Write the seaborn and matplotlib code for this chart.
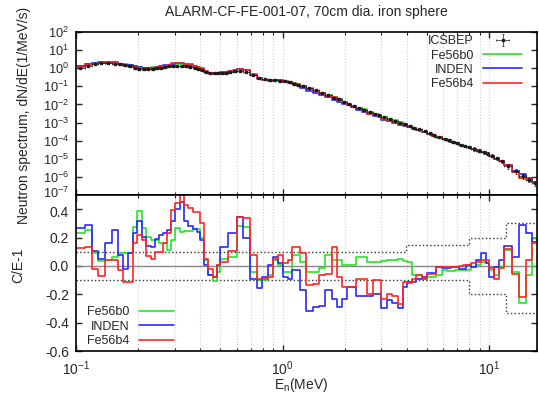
import numpy as np
import pandas as pd
import matplotlib

matplotlib.use("Agg")
import matplotlib.pyplot as plt
import matplotlib.ticker as ticker
import matplotlib.transforms as mtransforms
from matplotlib.lines import Line2D
import seaborn as sns

sns.set_theme(style="ticks")
plt.rcParams.update(
    {
        "font.family": ["Liberation Sans", "DejaVu Sans"],
        "font.size": 10,
        "mathtext.default": "regular",
        "axes.linewidth": 1.2,
    }
)

# bin edges, log10(E/MeV)
edge_log10 = [
    -1.000, -0.957, -0.923, -0.894, -0.860, -0.826, -0.797, -0.773, -0.749, -0.725,
    -0.705, -0.681, -0.662, -0.638, -0.618, -0.599, -0.580, -0.560, -0.541, -0.522,
    -0.498, -0.478, -0.459, -0.435, -0.415, -0.401, -0.382, -0.362, -0.338, -0.319,
    -0.304, -0.285, -0.266, -0.242, -0.222, -0.193, -0.159, -0.126, -0.101, -0.072,
    -0.048, -0.024, 0.000, 0.024, 0.043, 0.063, 0.082, 0.111, 0.145, 0.174,
    0.203, 0.237, 0.261, 0.285, 0.309, 0.333, 0.357, 0.382, 0.406, 0.435,
    0.459, 0.478, 0.507, 0.531, 0.556, 0.580, 0.604, 0.628, 0.647, 0.676,
    0.700, 0.725, 0.744, 0.773, 0.797, 0.816, 0.836, 0.855, 0.874, 0.889,
    0.913, 0.937, 0.961, 0.986, 1.000, 1.024, 1.048, 1.072, 1.111, 1.145,
    1.179, 1.208, 1.230,
]

# ICSBEP measured spectrum, log10(1/MeV/s)
icsbep_log10 = [
    0.02, 0.12, 0.24, 0.30, 0.29, 0.26, 0.22, 0.20, 0.12, 0.03,
    -0.05, -0.07, -0.06, -0.03, 0.0, 0.04, 0.07, 0.10, 0.12, 0.13,
    0.12, 0.10, 0.06, 0.0, -0.06, -0.12, -0.2, -0.24, -0.26, -0.27,
    -0.27, -0.26, -0.22, -0.18, -0.15, -0.2, -0.35, -0.52, -0.62, -0.65,
    -0.66, -0.68, -0.72, -0.78, -0.85, -0.92, -1.0, -1.1, -1.22, -1.35,
    -1.5, -1.62, -1.72, -1.85, -1.97, -2.08, -2.2, -2.3, -2.42, -2.52,
    -2.6, -2.7, -2.8, -2.9, -3.0, -3.1, -3.2, -3.28, -3.37, -3.46,
    -3.6, -3.7, -3.8, -3.9, -3.98, -4.06, -4.14, -4.22, -4.28, -4.36,
    -4.45, -4.55, -4.64, -4.72, -4.82, -4.98, -5.12, -5.4, -5.7, -5.95,
    -6.15, -6.35,
]

# C/E-1 per bin
ce_fe56b0 = [
    0.235, 0.25, 0.09, 0.035, 0.04, 0.06, 0.09, 0.09, 0.09, 0.275,
    0.385, 0.265, 0.205, 0.18, 0.18, 0.16, 0.16, 0.11, 0.18, 0.27,
    0.24, 0.245, 0.245, 0.26, 0.26, 0.195, 0.04, -0.065, -0.105, -0.04,
    0.05, 0.05, 0.06, 0.06, 0.28, 0.275, -0.04, -0.1, -0.1, -0.065,
    0.04, 0.005, -0.04, -0.04, 0.075, 0.075, 0.03, -0.04, -0.04, -0.015,
    0.075, 0.04, 0.045, 0.005, 0.005, 0.005, 0.065, 0.065, 0.03, 0.03,
    0.03, 0.035, 0.045, 0.045, 0.05, 0.035, 0.03, -0.065, -0.065, -0.09,
    -0.075, -0.075, -0.065, -0.03, -0.035, -0.035, -0.03, -0.03, -0.03, -0.03,
    -0.005, 0.005, 0.03, 0.02, -0.03, -0.065, -0.005, 0.11, -0.045, -0.26,
    -0.065, 0.195,
]
ce_inden = [
    0.265, 0.29, 0.105, 0.05, 0.165, 0.25, 0.08, -0.02, 0.09, 0.23,
    0.32, 0.205, 0.14, 0.13, 0.19, 0.22, 0.23, 0.25, 0.32, 0.40,
    0.45, 0.32, 0.28, 0.26, 0.24, 0.18, 0.005, -0.065, -0.077, 0.005,
    0.135, 0.135, 0.23, 0.23, 0.345, 0.195, -0.09, -0.155, -0.077, 0.005,
    0.065, 0.02, -0.08, -0.09, -0.03, -0.03, -0.17, -0.32, -0.29, -0.28,
    -0.17, -0.23, -0.29, -0.23, -0.145, -0.145, -0.215, -0.215, -0.21, -0.2,
    -0.2, -0.3, -0.24, -0.26, -0.3, -0.15, -0.11, -0.11, -0.09, -0.08,
    -0.05, -0.05, -0.01, -0.015, -0.015, -0.01, -0.01, -0.02, -0.02, 0.005,
    -0.005, 0.04, 0.09, 0.02, -0.08, -0.01, 0.04, 0.14, 0.06, 0.29,
    0.23, 0.17,
]
ce_fe56b4 = [
    0.125, 0.135, -0.02, -0.07, 0.04, 0.04, -0.03, -0.11, -0.11, 0.16,
    0.215, 0.18, 0.07, 0.05, 0.1, 0.1, 0.16, 0.23, 0.395, 0.445,
    0.52, 0.43, 0.41, 0.38, 0.38, 0.3, 0.05, -0.02, -0.08, 0.005,
    0.03, 0.03, 0.105, 0.105, 0.345, 0.335, 0.075, -0.09, -0.09, -0.08,
    0.05, 0.075, 0.02, 0.04, 0.13, 0.13, 0.09, -0.135, -0.125, -0.065,
    -0.06, 0.13, -0.075, -0.145, -0.145, -0.145, -0.09, -0.09, -0.2, -0.1,
    -0.1, -0.235, -0.195, -0.21, -0.265, -0.11, -0.12, -0.09, -0.065, -0.09,
    -0.06, -0.06, -0.005, -0.005, -0.01, -0.01, -0.01, 0.0, 0.005, 0.01,
    0.02, 0.03, 0.045, 0.04, -0.015, -0.09, -0.015, 0.12, -0.06, -0.22,
    0.04, 0.16,
]

# experimental uncertainty band (dotted)
band_edge_log10 = [-1.0, 0.599, 0.903, 1.082, 1.230]
band_hi = [0.1, 0.15, 0.2, 0.3]
band_lo = [-0.1, -0.1, -0.2, -0.33]

models = ["Fe56b0", "INDEN", "Fe56b4"]
ce_sets = [ce_fe56b0, ce_inden, ce_fe56b4]
colors = {"Fe56b0": "#22e622", "INDEN": "#2828ff", "Fe56b4": "#ff2424"}

title = "ALARM-CF-FE-001-07, 70cm dia. iron sphere"


def step_frame(edges, vals, name):
    return pd.DataFrame(
        {"E": edges, "val": list(vals) + [vals[-1]], "model": name}
    )


def main():
    edges = 10 ** np.array(edge_log10)
    centers = 10 ** ((np.array(edge_log10[:-1]) + np.array(edge_log10[1:])) / 2)
    exp = 10 ** np.array(icsbep_log10)

    # relative error of the measurement from the band
    idx = np.searchsorted(band_edge_log10, np.log10(centers), side="right") - 1
    rel_err = np.array(band_hi)[idx]

    top = pd.concat(
        [step_frame(edges, exp * (1 + np.array(c)), m) for m, c in zip(models, ce_sets)]
    )
    bot = pd.concat([step_frame(edges, c, m) for m, c in zip(models, ce_sets)])

    fig = plt.figure(figsize=(5.39, 3.98), dpi=100)
    ax1 = fig.add_axes([0.141, 0.51, 0.855, 0.4096])
    ax2 = fig.add_axes([0.141, 0.118, 0.855, 0.392])

    # --- spectrum panel
    sns.lineplot(
        data=top, x="E", y="val", hue="model", hue_order=models, palette=colors,
        drawstyle="steps-post", estimator=None, lw=1.2, legend=False, ax=ax1,
    )
    eb = ax1.errorbar(
        centers, exp,
        xerr=[centers - edges[:-1], edges[1:] - centers],
        yerr=exp * rel_err,
        fmt="s", ms=1.6, color="k", lw=0.5, capsize=1.0, capthick=0.5,
        zorder=5,
    )
    ax1.set_xscale("log")
    ax1.set_yscale("log")
    ax1.set_xlim(0.1, 10 ** 1.23)
    ax1.set_ylim(1e-7, 1e2)
    ax1.yaxis.set_major_locator(ticker.LogLocator(base=10, numticks=20))
    ax1.yaxis.set_minor_locator(ticker.NullLocator())
    ax1.yaxis.set_major_formatter(
        ticker.FuncFormatter(lambda v, p: "10$^{%d}$" % round(np.log10(v)))
    )
    ax1.xaxis.set_major_formatter(ticker.NullFormatter())
    ax1.xaxis.set_minor_formatter(ticker.NullFormatter())
    ax1.set_xlabel("")
    ax1.set_ylabel("")

    handles = [eb] + [Line2D([], [], color=colors[m], lw=1.2) for m in models]
    ax1.legend(
        handles, ["ICSBEP"] + models, loc="upper right",
        bbox_to_anchor=(0.973, 0.995), frameon=False, markerfirst=False,
        fontsize=9, handlelength=3.1, labelspacing=0.18, handletextpad=0.8,
        borderpad=0.2, borderaxespad=0.0,
    )

    # --- C/E-1 panel
    ax2.axhline(0.0, color="#888888", lw=1.0, zorder=1)
    band = pd.concat(
        [
            step_frame(10 ** np.array(band_edge_log10), band_hi, "hi"),
            step_frame(10 ** np.array(band_edge_log10), band_lo, "lo"),
        ]
    )
    sns.lineplot(
        data=band, x="E", y="val", units="model", color="#333333", ls=":",
        lw=1.0, drawstyle="steps-post", estimator=None, legend=False, ax=ax2,
    )
    sns.lineplot(
        data=bot, x="E", y="val", hue="model", hue_order=models, palette=colors,
        drawstyle="steps-post", estimator=None, lw=1.2, legend=False, ax=ax2,
    )
    ax2.set_xscale("log")
    ax2.set_xlim(0.1, 10 ** 1.23)
    ax2.set_ylim(-0.6, 0.5)
    ax2.set_yticks(np.arange(-0.6, 0.41, 0.2))
    ax2.yaxis.set_major_formatter(ticker.FormatStrFormatter("%.1f"))
    ax2.xaxis.set_major_formatter(
        ticker.FuncFormatter(lambda v, p: "10$^{%d}$" % round(np.log10(v)))
    )
    ax2.xaxis.set_minor_formatter(ticker.NullFormatter())
    ax2.set_xlabel("")
    ax2.set_ylabel("")
    ax2.legend(
        [Line2D([], [], color=colors[m], lw=1.2) for m in models], models,
        loc="lower left", bbox_to_anchor=(0.018, 0.01), frameon=False,
        markerfirst=False, fontsize=9, handlelength=2.8, labelspacing=0.18,
        handletextpad=0.8, borderpad=0.2, borderaxespad=0.0,
    )

    for ax in (ax1, ax2):
        ax.grid(axis="x", which="both", color="#d2d2d2", ls=":", lw=0.8)
        ax.tick_params(which="major", direction="in", length=4.5, width=1.0,
                       top=True, right=True, labelsize=10, pad=3)
        ax.tick_params(which="minor", direction="in", length=2.5, width=0.8,
                       top=True, right=True)
        ax.tick_params(axis="y", which="major", pad=5)
        for s in ax.spines.values():
            s.set_color("black")
    ax2.tick_params(axis="x", which="major", pad=6)
    # decade labels are packed tight on the spectrum axis
    ax1.tick_params(axis="y", which="major", labelsize=9.2)

    # ease the 10^-7 / 0.4 labels apart where the panels meet
    fig.canvas.draw()
    lift = mtransforms.ScaledTranslation(0, 2 / 72, fig.dpi_scale_trans)
    drop = mtransforms.ScaledTranslation(0, -1.5 / 72, fig.dpi_scale_trans)
    for tick in ax1.yaxis.get_major_ticks():
        if np.isclose(tick.get_loc(), 1e-7):
            tick.label1.set_transform(tick.label1.get_transform() + lift)
    for tick in ax2.yaxis.get_major_ticks():
        if np.isclose(tick.get_loc(), 0.4):
            tick.label1.set_transform(tick.label1.get_transform() + drop)

    fig.text(0.569, 1 - 12 / 398, title, ha="center", va="center", fontsize=10)
    fig.text(24 / 539, 1 - 115 / 398, "Neutron spectrum, dN/dE(1/MeV/s)",
             rotation=90, ha="center", va="center", fontsize=10)
    fig.text(18 / 539, 1 - 265 / 398, "C/E-1", rotation=90,
             ha="center", va="center", fontsize=10)
    fig.text(301 / 539, 1 - 385 / 398, "E$_n$(MeV)", ha="center",
             va="center", fontsize=10)

    fig.savefig("out.png", dpi=100, facecolor="w")
    plt.close()


if __name__ == "__main__":
    main()
